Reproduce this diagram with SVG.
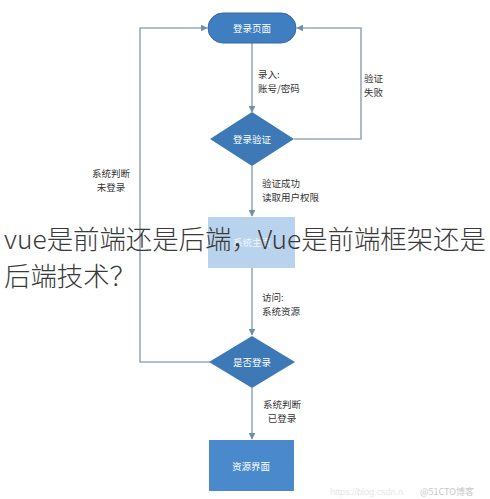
<svg xmlns="http://www.w3.org/2000/svg" width="490" height="499" viewBox="0 0 490 499">
<style>
.lbl{font-family:"Noto Sans CJK SC","Noto Sans",sans-serif;font-size:9.5px;fill:#333}
.nt{font-family:"Noto Sans CJK SC","Noto Sans",sans-serif;font-size:9.5px;fill:#fff;text-anchor:middle;dominant-baseline:central}
.ln{fill:none;stroke:#97aabb;stroke-width:1.6}
.big{font-family:"Noto Sans CJK SC","Noto Sans",sans-serif;font-size:26.4px;fill:#3a3a3a;font-weight:300}
</style>
<defs>
<marker id="ah" viewBox="0 0 10 10" refX="9" refY="5" markerWidth="7" markerHeight="7" orient="auto" markerUnits="userSpaceOnUse">
<path d="M0,0 L10,5 L0,10 z" fill="#6f8fab"/>
</marker>
</defs>
<rect width="490" height="499" fill="#fff"/>
<g id="connectors">
<path class="ln" d="M252,43 V112" marker-end="url(#ah)"/>
<path class="ln" d="M294,139 H361 V28 H297" marker-end="url(#ah)"/>
<path class="ln" d="M252,166 V216" marker-end="url(#ah)"/>
<path class="ln" d="M252,268 V335" marker-end="url(#ah)"/>
<path class="ln" d="M210,362 H140 V28 H207" marker-end="url(#ah)"/>
<path class="ln" d="M252,388 V439" marker-end="url(#ah)"/>
<text class="lbl" x="258" y="78">录入:</text>
<text class="lbl" x="258" y="92">账号/密码</text>
<text class="lbl" x="364" y="82">验证</text>
<text class="lbl" x="364" y="96">失败</text>
<text class="lbl" x="262" y="187">验证成功</text>
<text class="lbl" x="262" y="201">读取用户权限</text>
<text class="lbl" x="262" y="301">访问:</text>
<text class="lbl" x="262" y="315">系统资源</text>
<text class="lbl" x="111" y="177" text-anchor="middle">系统判断</text>
<text class="lbl" x="111" y="191" text-anchor="middle">未登录</text>
<text class="lbl" x="282" y="408" text-anchor="middle">系统判断</text>
<text class="lbl" x="282" y="422" text-anchor="middle">已登录</text>
</g>
<g id="login-page">
<rect x="208" y="13" width="88" height="30" rx="15" fill="#3f7ec0" stroke="#3569a3" stroke-width="1"/>
<text class="nt" x="252" y="28">登录页面</text>
</g>
<g id="login-verify">
<polygon points="252,112 294,139 252,166 210,139" fill="#3c79b6"/>
<text class="nt" x="252" y="139">登录验证</text>
</g>
<g id="home">
<rect x="208" y="217" width="87" height="51" fill="#b9d3ee"/>
<text class="nt" x="252" y="242" fill-opacity="0.8">系统主页</text>
</g>
<g id="is-login">
<polygon points="252,336 295,362 252,388 209,362" fill="#3c79b6"/>
<text class="nt" x="252" y="362">是否登录</text>
</g>
<g id="resource">
<rect x="209" y="440" width="85" height="51" fill="#4a89cb"/>
<text class="nt" x="251" y="466">资源界面</text>
</g>
<text class="big" x="4" y="249">vue是前端还是后端，Vue是前端框架还是</text>
<text class="big" x="4" y="286">后端技术？</text>
<text x="330" y="495" style="font-family:'Liberation Sans',sans-serif;font-size:9px;fill:#e6e6e6">https://blog.csdn.n</text>
<text x="420" y="495" style="font-family:'Noto Sans CJK SC',sans-serif;font-size:9px;fill:#c8c8c8">@51CTO博客</text>
</svg>
